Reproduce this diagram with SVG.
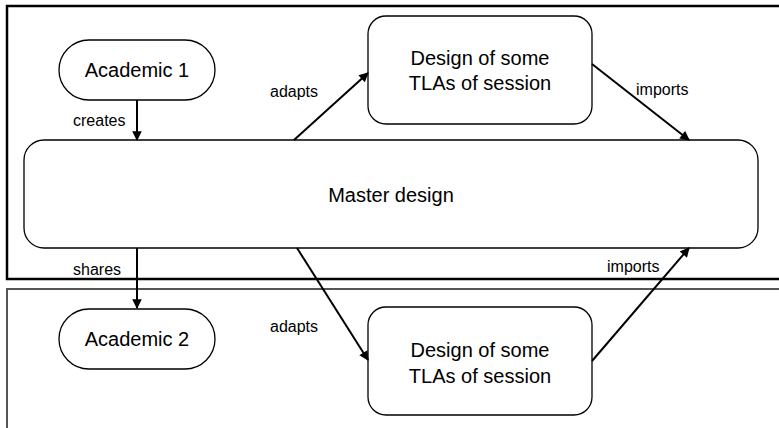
<svg xmlns="http://www.w3.org/2000/svg" width="779" height="428" viewBox="0 0 779 428">
  <style>
    .node { fill: #fff; stroke: #000; stroke-width: 1.3; }
    .main { font-family: "Liberation Sans", Arial, sans-serif; font-size: 20px; fill: #000; text-anchor: middle; }
    .lbl { font-family: "Liberation Sans", Arial, sans-serif; font-size: 16px; fill: #000; }
    .edge { stroke: #000; stroke-width: 2; fill: none; marker-end: url(#arrow); }
  </style>
  <defs>
    <marker id="arrow" viewBox="0 0 10 10" refX="9" refY="5" markerWidth="5.5" markerHeight="4.8" orient="auto" markerUnits="strokeWidth">
      <path d="M0,0 L10,5 L0,10 z" fill="#000"/>
    </marker>
  </defs>
  <rect width="779" height="428" fill="#fff"/>

  <!-- swimlane frames -->
  <g id="frames">
    <rect x="7" y="6" width="800" height="273" fill="none" stroke="#000" stroke-width="2.5"/>
    <rect x="7" y="289" width="800" height="160" fill="none" stroke="#555" stroke-width="2"/>
  </g>

  <g id="academic1">
    <rect class="node" x="59" y="40" width="156" height="60" rx="30"/>
    <text class="main" x="137" y="77">Academic 1</text>
  </g>

  <g id="master">
    <rect class="node" x="24" y="140" width="734" height="108" rx="20"/>
    <text class="main" x="391" y="202">Master design</text>
  </g>

  <g id="design-top">
    <rect class="node" x="368" y="16" width="224" height="108" rx="18"/>
    <text class="main" x="480" y="65">Design of some</text>
    <text class="main" x="480" y="90">TLAs of session</text>
  </g>

  <g id="academic2">
    <rect class="node" x="59" y="309" width="156" height="60" rx="30"/>
    <text class="main" x="137" y="346">Academic 2</text>
  </g>

  <g id="design-bottom">
    <rect class="node" x="368" y="307" width="224" height="108" rx="18"/>
    <text class="main" x="480" y="357">Design of some</text>
    <text class="main" x="480" y="383">TLAs of session</text>
  </g>

  <g id="connectors">
    <line class="edge" x1="137" y1="100" x2="137" y2="140"/>
    <line class="edge" x1="294" y1="140" x2="368" y2="73"/>
    <line class="edge" x1="592" y1="64" x2="689" y2="140"/>
    <line class="edge" x1="137" y1="248" x2="137" y2="308"/>
    <line class="edge" x1="297" y1="248" x2="368" y2="360"/>
    <line class="edge" x1="592" y1="361" x2="689" y2="248"/>
    <text class="lbl" x="73" y="126">creates</text>
    <text class="lbl" x="270" y="97">adapts</text>
    <text class="lbl" x="636" y="95">imports</text>
    <text class="lbl" x="73" y="275">shares</text>
    <text class="lbl" x="270" y="332">adapts</text>
    <text class="lbl" x="607" y="272">imports</text>
  </g>
</svg>
